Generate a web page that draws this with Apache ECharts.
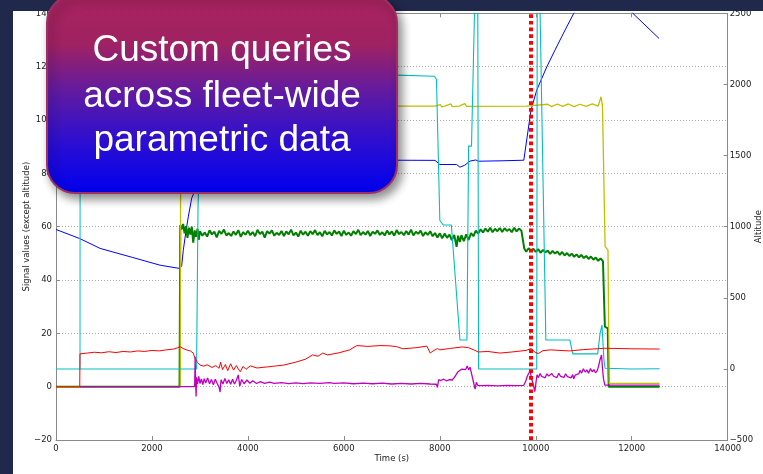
<!DOCTYPE html>
<html>
<head>
<meta charset="utf-8">
<script src="https://cdn.jsdelivr.net/npm/echarts@6/dist/echarts.min.js"></script>
<style>
  html, body { margin: 0; padding: 0; background: #ffffff; }
  #chart { width: 763px; height: 474px; }
</style>
</head>
<body>
<div id="chart"></div>
<script>
// Axis ticks
const timeTicks = [0, 2000, 4000, 6000, 8000, 10000, 12000, 14000];
const signalTicks = [-20, 0, 20, 40, 60, 80, 100, 120, 140];
const altitudeTicks = [-500, 0, 500, 1000, 1500, 2000, 2500];

// Flight recording, [time (s), value]
const altitude = [
  [0, 980], [490, 917], [920, 847], [1600, 783], [2170, 729], [2580, 706],
  [2620, 725], [2653, 833], [2688, 919], [2757, 1069], [2828, 1200], [2876, 1238],
  [2950, 1300], [3050, 1380], [3200, 1440], [3400, 1462], [5000, 1466], [7100, 1467],
  [7900, 1466], [8000, 1437], [8350, 1437], [8420, 1418], [8520, 1432], [8630, 1461],
  [8750, 1469], [8800, 1460], [9300, 1463], [9750, 1467], [9900, 1819], [10020, 1960],
  [10230, 2124], [10400, 2241], [10610, 2382], [10790, 2499], [11100, 2620],
  [11450, 2660], [11750, 2600], [12025, 2499], [12570, 2323]
];

const signalGreen = [
  [0, 0], [2575, 0], [2590, 60.5], [2620, 59.0], [2650, 61.0], [2680, 57.5], [2710, 60.2],
  [2740, 55.8], [2770, 59.6], [2800, 57.0], [2830, 60.0], [2860, 54.0], [2890, 58.6],
  [2920, 56.2], [2950, 59.2], [2975, 55.0],
  [3000, 58.3], [3050, 56.6], [3100, 57.8], [3150, 56.3], [3200, 58.6], [3250, 57.1], [3300, 58.1],
  [3350, 56.0], [3400, 58.4], [3450, 57.3], [3500, 58.9], [3550, 56.7], [3600, 57.6], [3650, 56.5],
  [3700, 58.2], [3750, 56.9], [3800, 58.7], [3850, 56.2], [3900, 57.9], [3950, 57.0], [4000, 58.5],
  [4050, 56.8], [4100, 58.0], [4150, 56.4], [4200, 58.8], [4250, 57.2], [4300, 58.1], [4350, 55.9],
  [4400, 58.3], [4450, 57.4], [4500, 58.6], [4550, 56.6], [4600, 57.7], [4650, 56.9], [4700, 58.4],
  [4750, 56.5], [4800, 58.2], [4850, 57.1], [4900, 58.9], [4950, 56.7], [5000, 57.8], [5050, 56.3],
  [5100, 58.5], [5150, 57.0], [5200, 58.1], [5250, 56.6], [5300, 58.3], [5350, 57.2], [5400, 58.7],
  [5450, 56.8], [5500, 57.9], [5550, 56.4], [5600, 58.4], [5650, 57.1], [5700, 58.0], [5750, 56.7],
  [5800, 58.6], [5850, 57.3], [5900, 58.2], [5950, 56.5], [6000, 58.5], [6050, 56.9], [6100, 57.8],
  [6150, 56.6], [6200, 58.3], [6250, 57.2], [6300, 58.8], [6350, 56.8], [6400, 58.0], [6450, 57.0],
  [6500, 58.4], [6550, 56.5], [6600, 58.1], [6650, 57.3], [6700, 58.6], [6750, 56.9], [6800, 57.9],
  [6850, 56.7], [6900, 58.5], [6950, 57.1], [7000, 58.2], [7050, 56.6], [7100, 58.7], [7150, 57.2],
  [7200, 58.0], [7250, 56.8], [7300, 58.4], [7350, 57.0], [7400, 58.9], [7450, 56.7], [7500, 58.1],
  [7550, 57.3], [7600, 58.5], [7650, 56.5], [7700, 57.9], [7750, 56.9], [7800, 58.3], [7850, 56.4],
  [7900, 57.6], [7950, 55.9], [8000, 57.5], [8050, 55.6], [8100, 57.4], [8150, 55.8], [8200, 57.0],
  [8250, 55.0], [8300, 56.9], [8350, 52.4], [8380, 56.6], [8420, 54.3], [8450, 56.8], [8500, 54.6],
  [8550, 57.1], [8600, 55.0], [8650, 57.6], [8700, 56.4], [8750, 58.5], [8800, 57.4], [8850, 59.0],
  [8900, 57.8], [8950, 59.3], [9000, 58.1], [9050, 59.6], [9100, 57.9], [9150, 59.2], [9200, 58.3],
  [9250, 59.5], [9300, 58.0], [9350, 59.4], [9400, 58.4], [9450, 59.1], [9500, 57.9], [9550, 59.6],
  [9600, 58.2], [9650, 59.3], [9700, 58.5], [9740, 59.0],
  [9760, 51.8], [9800, 50.6], [9850, 51.9], [9900, 50.9], [9950, 51.7], [10000, 50.5], [10050, 51.6],
  [10100, 50.2], [10150, 51.3], [10200, 50.4], [10250, 51.0], [10300, 49.8], [10350, 50.9],
  [10400, 49.9], [10450, 50.7], [10500, 49.4], [10550, 50.5], [10600, 49.2], [10650, 50.1],
  [10700, 49.0], [10750, 49.9], [10800, 48.7], [10850, 49.6], [10900, 48.5], [10950, 49.4],
  [11000, 48.2], [11050, 49.0], [11100, 47.9], [11150, 48.8], [11200, 47.6], [11250, 48.4],
  [11300, 47.2], [11350, 48.1], [11400, 47.0], [11420, 47.6], [11440, 22.5], [11500, 21.9],
  [11520, 0], [12580, 0]
];

const signalYellow = [
  [0, 0], [2590, 0], [2600, 105.2], [7900, 105.2], [8010, 105.8], [8040, 104.9], [8100, 105.2],
  [8230, 106.0], [8260, 105.0], [8400, 105.2], [8520, 106.1], [8560, 105.1], [9800, 105.2],
  [10250, 105.9], [10330, 105.0], [10450, 106.0], [10560, 105.1], [10680, 106.0],
  [10800, 105.0], [10920, 105.9], [11050, 105.1], [11180, 106.0], [11300, 105.2],
  [11360, 108.7], [11390, 105.4], [11430, 105.2], [11445, 52.5], [11505, 51.2],
  [11530, 1.2], [12580, 1.2]
];

const signalCyan = [
  [0, 6.6], [2930, 6.6], [2945, 7.0], [2960, 67.4], [2985, 67.8], [3000, 90], [3050, 118],
  [3300, 117], [7100, 116.8], [7890, 116.4], [7930, 115.2], [8000, 62.4], [8070, 60.6],
  [8240, 60.6], [8420, 17.5], [8565, 17.5], [8600, 90.2], [8660, 90.2], [8735, 150],
  [8790, 150], [8808, 6.6], [10020, 6.6], [10030, 150], [10080, 150], [10210, 17.5],
  [10710, 17.5], [10770, 12.3], [11290, 12.3], [11340, 20], [11380, 23.1], [11420, 10],
  [11445, 6.9], [12000, 6.6], [12580, 6.7]
];

const signalCyan2 = [[500, 6.6], [505, 160], [3000, 160]];

const signalRed = [
  [0, 0], [495, 0], [500, 12.3], [650, 12.6], [800, 12.9], [950, 12.7], [1100, 13.1],
  [1250, 12.8], [1400, 13.2], [1550, 13.0], [1700, 13.4], [1850, 13.2], [2000, 13.6],
  [2150, 13.4], [2300, 13.8], [2450, 14.1], [2540, 14.6], [2590, 15.0], [2650, 14.3],
  [2720, 13.8], [2800, 13.4], [2860, 12.6], [2900, 10.6], [2950, 9.0], [3000, 8.1],
  [3080, 7.7], [3150, 8.2], [3250, 7.2], [3330, 7.9], [3400, 6.9], [3430, 9.2], [3470, 6.4],
  [3530, 8.3], [3580, 6.0], [3640, 8.6], [3700, 6.2], [3760, 7.9], [3800, 6.6], [3840, 5.6],
  [3900, 7.6], [3960, 6.5], [4050, 7.8], [4190, 7.0], [4400, 7.4], [4600, 7.8], [4750, 8.1],
  [5000, 9.2], [5200, 10.3], [5350, 11.9], [5460, 11.4], [5560, 12.6], [5660, 11.9],
  [5900, 12.7], [6120, 13.8], [6270, 15.4], [6500, 15.1], [6750, 15.4], [6960, 15.3],
  [7100, 15.0], [7230, 14.2], [7500, 14.6], [7730, 15.2], [7800, 12.6], [7860, 13.4],
  [7950, 14.3], [8000, 13.8], [8200, 14.3], [8470, 14.9], [8600, 14.6], [8730, 13.6],
  [8800, 13.0], [9000, 13.2], [9250, 12.6], [9500, 13.0], [9800, 13.6], [9900, 14.3],
  [9980, 13.0], [10050, 12.4], [10150, 13.5], [10300, 13.8], [10700, 13.4], [11000, 13.9],
  [11440, 14.4], [12000, 14.2], [12580, 14.1]
];

const signalMagenta = [
  [500, 0], [2890, 0], [2900, 11.2], [2910, 2.0], [2920, -3.7], [2930, 3.5], [2950, 1.0],
  [2975, 3.9], [3000, 1.2], [3030, 2.9], [3060, 0.8], [3090, 3.0], [3120, 1.4], [3160, 3.3],
  [3200, 1.1], [3240, 2.7], [3280, 0.7], [3320, 2.8], [3360, 1.2], [3400, -0.3], [3420, -2.0],
  [3440, 2.6], [3480, 1.0], [3520, 3.1], [3560, 1.2], [3600, 2.6], [3640, 0.9], [3680, 2.8],
  [3720, 1.0], [3760, 2.4], [3800, 4.4], [3830, 0.2], [3870, 2.7], [3920, 1.1], [3980, 2.5],
  [4040, 1.3], [4100, 2.2], [4180, 1.2], [4260, 1.9], [4350, 1.2], [4450, 1.7], [4550, 1.2],
  [4700, 1.5], [4850, 1.1], [5000, 1.4], [5150, 1.1], [5300, 1.4], [5500, 1.2], [5700, 1.5],
  [5800, 1.2], [6000, 1.4], [6200, 1.1], [6400, 1.3], [6600, 1.1], [6800, 1.3], [7000, 1.0],
  [7200, 1.2], [7400, 1.0], [7600, 1.2], [7800, 1.0], [7930, 0.9], [7950, -0.3], [7975, 2.6],
  [8020, 2.3], [8080, 2.8], [8140, 2.2], [8200, 2.6], [8260, 2.5], [8300, 3.4], [8340, 4.0],
  [8380, 5.6], [8420, 5.0], [8460, 6.6], [8500, 7.1], [8540, 6.4], [8570, 7.8], [8600, 6.3],
  [8630, 7.3], [8660, 5.0], [8690, 2.6], [8720, 3.0], [8735, -0.9], [8760, 1.6], [8790, 0.5],
  [8850, 0.4], [9000, 0.5], [9200, 0.3], [9400, 0.5], [9600, 0.4], [9750, 0.5], [9790, 2.0],
  [9820, 3.8], [9860, 5.2], [9880, 6.3], [9910, 3.0], [9940, 1.4], [9980, -1.9], [10000, 1.0],
  [10025, 4.4], [10055, 3.4], [10090, 4.9], [10120, 3.9], [10160, 4.3], [10195, 3.3],
  [10230, 4.8], [10270, 4.0], [10300, 3.5], [10335, 4.9], [10370, 3.9], [10410, 4.4],
  [10440, 3.4], [10480, 5.0], [10515, 3.9], [10550, 4.3], [10590, 3.5], [10620, 4.8],
  [10660, 3.8], [10700, 4.2], [10735, 3.3], [10770, 4.5], [10790, 2.9], [10820, 4.3],
  [10860, 3.8], [10900, 4.9], [10920, 6.1], [10955, 5.1], [10990, 6.7], [11030, 5.5],
  [11065, 6.3], [11100, 5.0], [11140, 6.8], [11175, 5.6], [11210, 6.4], [11245, 5.2],
  [11280, 6.0], [11310, 7.8], [11340, 10.2], [11370, 11.9], [11390, 7.0], [11410, 3.0],
  [11440, 0.6], [12580, 0.6]
];

// Event marker time
const eventTime = 9900;

const headline = ['Custom queries', 'across fleet-wide', 'parametric data'];

const FONT = 'DejaVu Sans';
const minus = v => String(v).replace('-', '\u2212');
const spine = '#8a8a8a';

function axisBase(ticks) {
  return {
    type: 'value',
    min: ticks[0],
    max: ticks[ticks.length - 1],
    interval: ticks[1] - ticks[0],
    nameMoveOverlap: false,
    axisLine: { show: true, onZero: false, lineStyle: { color: spine, width: 1 } },
    axisTick: { show: true, inside: true, length: 4, lineStyle: { color: spine, width: 1 } },
    axisLabel: { show: true, color: '#222', fontSize: 8.5, fontFamily: FONT, formatter: minus,
                 showMinLabel: true, showMaxLabel: true },
    splitLine: { show: false },
    nameTextStyle: { color: '#222', fontSize: 8.5, fontFamily: FONT }
  };
}

function line(data, color, width, yAxisIndex) {
  return {
    type: 'line', data, yAxisIndex: yAxisIndex || 0, xAxisIndex: 0,
    showSymbol: false, symbol: 'none', clip: true, silent: true,
    lineStyle: { color, width },
    emphasis: { disabled: true }
  };
}

const xBottom = axisBase(timeTicks);
Object.assign(xBottom, {
  position: 'bottom', name: 'Time (s)', nameLocation: 'middle', nameGap: 14
});
xBottom.axisLabel.margin = 4;

const xTop = axisBase(timeTicks);
Object.assign(xTop, { position: 'top' });
xTop.axisLabel = { show: false };

const yLeft = axisBase(signalTicks);
Object.assign(yLeft, {
  position: 'left', name: 'Signal values (except altitude)', nameLocation: 'middle',
  nameGap: 25, nameRotate: 90,
  splitLine: { show: true, lineStyle: { color: '#a8a8a8', width: 1, type: [1, 2] } }
});
yLeft.axisLabel.margin = 4;

const yRight = axisBase(altitudeTicks);
Object.assign(yRight, {
  position: 'right', name: 'Altitude', nameLocation: 'middle', nameGap: 27, nameRotate: 90
});
yRight.axisLabel.margin = 2;

const chart = echarts.init(document.getElementById('chart'), null, { renderer: 'canvas' });

chart.setOption({
  animation: false,
  backgroundColor: '#ffffff',
  grid: { left: 56, right: 35.3, top: 13.3, bottom: 34, containLabel: false, outerBoundsMode: 'none' },
  xAxis: [xBottom, xTop],
  yAxis: [yLeft, yRight],
  series: [
    line(altitude, '#0000ff', 1, 1),
    line(signalGreen, '#008000', 2),
    line(signalYellow, '#bfbf00', 1.3),
    line(signalCyan2, '#00bfbf', 1),
    line(signalCyan, '#00bfbf', 1.1),
    line(signalRed, '#ff0000', 1),
    line(signalMagenta, '#bf00bf', 1.3),
    {
      type: 'line', silent: true, showSymbol: false, symbol: 'none', z: 5,
      data: [[eventTime, signalTicks[0]], [eventTime, signalTicks[signalTicks.length - 1]]],
      lineStyle: { color: '#ff0000', width: 4, type: [3.7, 3], cap: 'butt' }
    }
  ],
  graphic: {
    elements: [
      { type: 'rect', z: 100, silent: true, shape: { x: 0, y: 0, width: 763, height: 11 },
        style: { fill: '#20284c' } },
      { type: 'rect', z: 100, silent: true, shape: { x: 0, y: 0, width: 13, height: 474 },
        style: { fill: '#20284c' } },
      {
        type: 'rect', z: 110, silent: true,
        shape: { x: 47, y: -5, width: 350, height: 198, r: 28 },
        style: {
          fill: {
            type: 'linear', x: 0, y: 0, x2: 0, y2: 1,
            colorStops: [
              { offset: 0, color: '#a8235e' },
              { offset: 0.25, color: '#a02262' },
              { offset: 0.5, color: '#5e1aa4' },
              { offset: 0.75, color: '#2a0ed2' },
              { offset: 1, color: '#0000ee' }
            ]
          },
          stroke: '#9c3063', lineWidth: 2,
          shadowBlur: 10, shadowColor: 'rgba(0,0,0,0.45)', shadowOffsetX: 4, shadowOffsetY: 5
        }
      },
      { type: 'text', z: 120, silent: true, x: 222, y: 51,
        style: { text: headline[0], fill: '#ffffff', font: '37px "Liberation Sans", Arial, sans-serif',
                 textAlign: 'center', textVerticalAlign: 'middle' } },
      { type: 'text', z: 120, silent: true, x: 222, y: 97,
        style: { text: headline[1], fill: '#ffffff', font: '37px "Liberation Sans", Arial, sans-serif',
                 textAlign: 'center', textVerticalAlign: 'middle' } },
      { type: 'text', z: 120, silent: true, x: 222, y: 141,
        style: { text: headline[2], fill: '#ffffff', font: '37px "Liberation Sans", Arial, sans-serif',
                 textAlign: 'center', textVerticalAlign: 'middle' } }
    ]
  }
});
</script>
</body>
</html>
